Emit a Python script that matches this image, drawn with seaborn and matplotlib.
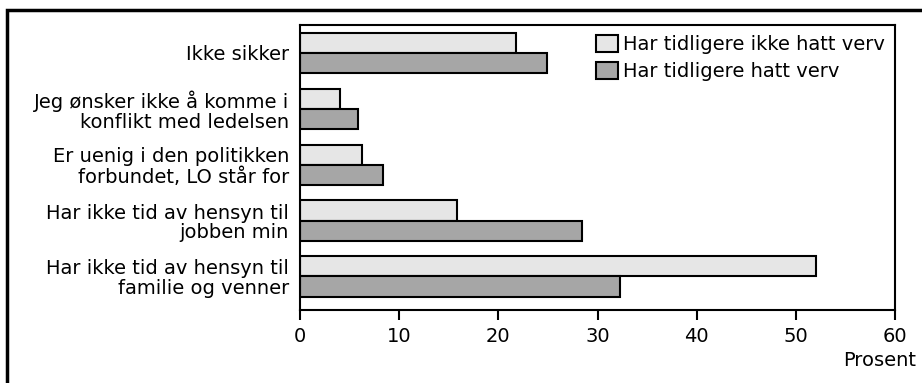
import pandas as pd
import matplotlib.pyplot as plt
import seaborn as sns
import numpy as np
from matplotlib.patches import Rectangle

categories = ["Ikke sikker",
              "Jeg ønsker ikke å komme i\nkonflikt med ledelsen",
              "Er uenig i den politikken\nforbundet, LO står for",
              "Har ikke tid av hensyn til\njobben min",
              "Har ikke tid av hensyn til\nfamilie og venner"]
ikke_hatt = [21.8, 4.0, 6.3, 15.8, 52.0]
hatt = [24.9, 5.8, 8.4, 28.4, 32.3]
series = ["Har tidligere ikke hatt verv", "Har tidligere hatt verv"]

data = pd.DataFrame({
    "kategori": categories * 2,
    "prosent": ikke_hatt + hatt,
    "gruppe": [series[0]] * 5 + [series[1]] * 5,
})

sns.set_style("white")
plt.rcParams['font.family'] = ['DejaVu Sans']
plt.rcParams['text.color'] = 'black'
plt.rcParams['xtick.color'] = 'black'
plt.rcParams['ytick.color'] = 'black'

fig = plt.figure(figsize=(9.22, 3.83), dpi=100)
ax = fig.add_axes([300 / 922, 1 - 310 / 383, 595 / 922, 285 / 383])

sns.barplot(data=data, y="kategori", x="prosent", hue="gruppe", orient="h",
            palette=["#e6e6e6", "#a6a6a6"], edgecolor="black", linewidth=1.5,
            width=0.72, saturation=1, ax=ax)

ax.set_xlim(0, 60)
ax.set_ylim(4.6, -0.5)
ax.set_xticks([0, 10, 20, 30, 40, 50, 60])
ax.set_ylabel("")
ax.set_xlabel("")
ax.tick_params(axis="x", length=7, width=1.5, colors="black", labelsize=14, direction="out", bottom=True, pad=5)
ax.tick_params(axis="y", length=0, colors="black", labelsize=14, pad=8)
for lab in ax.get_yticklabels():
    lab.set_linespacing(1.05)
for s in ax.spines.values():
    s.set_color("black")
    s.set_linewidth(1.5)

fig.text(916 / 922, 1 - 360 / 383, "Prosent", ha="right", va="center", fontsize=14, color="black")

leg = ax.legend(loc="upper right", frameon=False, fontsize=14, handlelength=1.1,
                handleheight=1.0, handletextpad=0.3, labelspacing=0.4,
                borderaxespad=0.3, borderpad=0.2)
for t in leg.get_texts():
    t.set_color("black")

fig.add_artist(Rectangle((7 / 922, -0.1), 1.2, 0.1 + 1 - 10 / 383,
                         transform=fig.transFigure, fill=False,
                         edgecolor="black", linewidth=2.5))

plt.savefig("out.png", dpi=100)
